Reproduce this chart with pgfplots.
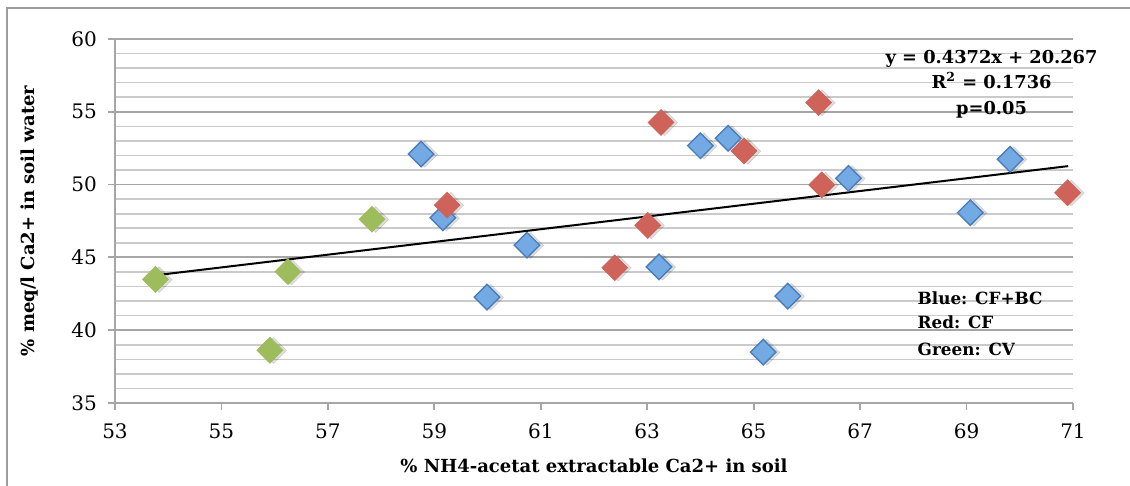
\documentclass[border=0pt]{standalone}
\usepackage{fontspec}
\setmainfont{DejaVu Serif}
\usepackage{pgfplots}
\pgfplotsset{compat=1.18}
\usepackage{pgfplotstable}

\definecolor{gridmajor}{HTML}{A6A6A6}
\definecolor{gridminor}{HTML}{CACACA}
\definecolor{framegray}{HTML}{9C9C9C}
\definecolor{cfbcfill}{HTML}{74AAE3}
\definecolor{cfbcedge}{HTML}{4A7EBB}
\definecolor{cffill}{HTML}{CF6259}
\definecolor{cvfill}{HTML}{9DBC5C}

% CF+BC (blue)
\pgfplotstableread{
x y
58.75 52.10
59.16 47.72
59.99 42.27
60.74 45.84
63.22 44.35
64.00 52.67
64.52 53.18
65.18 38.50
65.64 42.34
66.78 50.43
69.07 48.07
69.82 51.74
}\cfbc
% CF (red)
\pgfplotstableread{
x y
59.24 48.59
62.39 44.29
63.01 47.20
63.26 54.27
64.82 52.31
66.22 55.63
66.28 49.98
70.90 49.44
}\cf
% CV (green)
\pgfplotstableread{
x y
53.76 43.49
55.91 38.62
56.25 44.02
57.83 47.62
}\cv

\pgfplotsset{
  shadowmark/.style={only marks, mark=square*, mark size=4.6pt,
    mark options={rotate=45, xshift=1.2pt, yshift=-1.4pt, fill=black, draw=black, line width=0.2pt, opacity=0.13}},
}

\begin{document}
\begin{tikzpicture}
\useasboundingbox (-57.5pt,-41.5pt) rectangle (507.5pt,201.5pt);
\draw[framegray, line width=0.8pt] (-54pt,-60pt) -- (-54pt,197.5pt) -- (520pt,197.5pt);
\begin{axis}[
    at={(0,0)},
    width=479pt,
    height=182pt,
    scale only axis,
    clip=false,
    xmin=53, xmax=71,
    ymin=35, ymax=60,
    xtick={53,55,...,71},
    ytick={35,40,...,60},
    minor y tick num=4,
    ymajorgrids, yminorgrids,
    major grid style={gridmajor, line width=0.9pt},
    minor grid style={gridminor, line width=0.8pt},
    axis lines*=left,
    axis line style={gridmajor, line width=0.9pt},
    tick style={gridmajor, line width=0.9pt},
    tick align=outside,
    major tick length=3.5pt,
    minor tick length=0pt,
    /pgf/number format/assume math mode=true,
    ticklabel style={font=\fontsize{10}{12}\selectfont, text=black},
    xticklabel style={yshift=-3.5pt},
    yticklabel style={xshift=-2pt},
    xlabel={\% NH4-acetat extractable Ca2+ in soil},
    ylabel={\% meq/l Ca2+ in soil water},
    label style={font=\bfseries\fontsize{9}{10.5}\selectfont},
    xlabel style={at={(axis description cs:0.5,-0.173)}, anchor=center},
    ylabel style={at={(axis description cs:-0.0887,0.5)}, anchor=center},
]
% soft shadows under the markers
\addplot[shadowmark] table {\cfbc};
\addplot[shadowmark] table {\cf};
\addplot[shadowmark] table {\cv};
\addplot[only marks, mark=square*, mark size=4.5pt,
  mark options={rotate=45, fill=cfbcfill, draw=cfbcedge, line width=0.7pt}] table {\cfbc};
\addplot[only marks, mark=square*, mark size=4.5pt,
  mark options={rotate=45, fill=cffill, draw=cffill, line width=0.5pt}] table {\cf};
\addplot[only marks, mark=square*, mark size=4.5pt,
  mark options={rotate=45, fill=cvfill, draw=cvfill, line width=0.5pt}] table {\cv};
% linear trend line
\addplot[black, line width=1pt] coordinates {(53.76,43.77) (70.91,51.27)};

\node[font=\bfseries\fontsize{8.9}{12.6}\selectfont, align=center]
  at (axis cs:69.47,56.9) {y = 0.4372x + 20.267\\R\textsuperscript{2} = 0.1736\\p=0.05};
\node[font=\bfseries\fontsize{8.4}{10}\selectfont, anchor=west] at (axis cs:67.95,42.18) {Blue: CF+BC};
\node[font=\bfseries\fontsize{8.4}{10}\selectfont, anchor=west] at (axis cs:67.95,40.57) {Red: CF};
\node[font=\bfseries\fontsize{8.4}{10}\selectfont, anchor=west] at (axis cs:67.95,38.67) {Green: CV};
\end{axis}
\end{tikzpicture}
\end{document}
